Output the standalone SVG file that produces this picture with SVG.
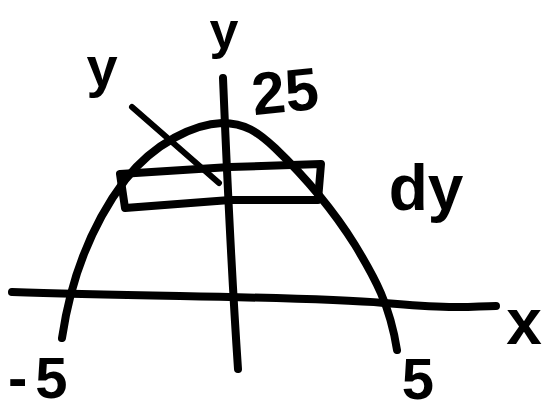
<svg xmlns="http://www.w3.org/2000/svg" width="549" height="413" viewBox="0 0 549 413">
<style>
.ink{fill:none;stroke:#000;stroke-width:8;stroke-linecap:round;stroke-linejoin:round}
.thin{stroke-width:6}
.lbl{font-family:"Liberation Sans","DejaVu Sans",sans-serif;font-weight:bold;fill:#000}
</style>
<rect width="549" height="413" fill="#fff"/>
<g id="axes">
<path class="ink" d="M12,292 C 150,297 300,296 384,303 S 470,306 496,306"/>
<path class="ink" d="M223,78 C 226,150 230,250 238,369"/>
</g>
<g id="parabola">
<path class="ink" d="M62,338 C 72,270 95,220 125,180 C 155,142 195,124 222,123 C 245,123 258,132 275,148 C 300,172 330,205 355,245 C 375,278 390,305 397,350"/>
</g>
<g id="strip">
<path class="ink" d="M120,174 L 230,167 L 321,164 L 318,200 L 230,200 L 125,208 Z"/>
</g>
<g id="pointer">
<path class="ink thin" d="M132,107 L 219,183"/>
</g>
<g id="labels">
<text class="lbl" x="224" y="48" font-size="52" text-anchor="middle">y</text>
<text class="lbl" x="102" y="86" font-size="56" text-anchor="middle">y</text>
<text class="lbl" x="285" y="112" font-size="60" text-anchor="middle" transform="rotate(-6 285 90)">25</text>
<text class="lbl" x="426" y="210" font-size="64" text-anchor="middle">dy</text>
<text class="lbl" x="524" y="344" font-size="64" text-anchor="middle">x</text>
<text class="lbl" x="8" y="398" font-size="58" letter-spacing="8">-5</text>
<text class="lbl" x="418" y="399" font-size="58" text-anchor="middle">5</text>
</g>
</svg>
